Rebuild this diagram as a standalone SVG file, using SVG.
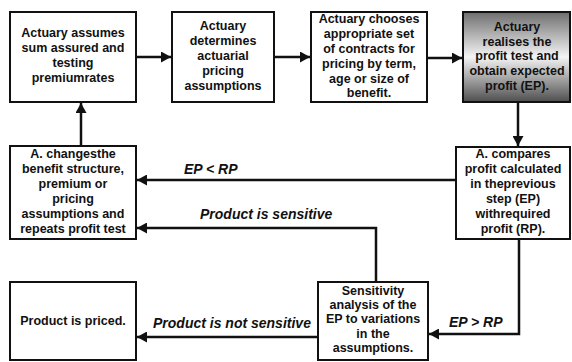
<svg xmlns="http://www.w3.org/2000/svg" width="572" height="362" viewBox="0 0 572 362">
<style>
.box{fill:#fff;stroke:#111;stroke-width:2}
.t{font-family:"Liberation Sans",Arial,sans-serif;font-weight:bold;font-size:12.5px;fill:#111;text-anchor:middle}
.lbl{font-family:"Liberation Sans",Arial,sans-serif;font-weight:bold;font-style:italic;font-size:14px;fill:#111}
.c{fill:none;stroke:#111;stroke-width:2.5}
</style>
<defs>
<linearGradient id="g" x1="0" y1="0" x2="0" y2="1">
<stop offset="0" stop-color="#6e6e6e"/>
<stop offset="0.5" stop-color="#f4f4f4"/>
<stop offset="1" stop-color="#4e4e4e"/>
</linearGradient>
<marker id="ah" markerUnits="userSpaceOnUse" markerWidth="11" markerHeight="11" refX="10" refY="5.5" orient="auto">
<path d="M0,0 L10,5.5 L0,11 z" fill="#111"/>
</marker>
</defs>
<rect width="572" height="362" fill="#fff"/>
<g id="connectors">
<line class="c" x1="136" y1="57" x2="171" y2="57" marker-end="url(#ah)"/>
<line class="c" x1="274" y1="57" x2="310" y2="57" marker-end="url(#ah)"/>
<line class="c" x1="427" y1="58" x2="462" y2="58" marker-end="url(#ah)"/>
<line class="c" x1="518" y1="103" x2="518" y2="146" marker-end="url(#ah)"/>
<line class="c" x1="456" y1="180" x2="137" y2="180" marker-end="url(#ah)"/>
<polyline class="c" points="376,282 376,228 137,228" marker-end="url(#ah)"/>
<polyline class="c" points="519,239 519,334 429,334" marker-end="url(#ah)"/>
<line class="c" x1="318" y1="337" x2="137" y2="337" marker-end="url(#ah)"/>
<line class="c" x1="81" y1="146" x2="81" y2="103" marker-end="url(#ah)"/>
<text class="lbl" x="184" y="174">EP &lt; RP</text>
<text class="lbl" x="200" y="219">Product is sensitive</text>
<text class="lbl" x="449" y="327">EP &gt; RP</text>
<text class="lbl" x="153" y="328">Product is not sensitive</text>
</g>
<g id="n1">
<rect class="box" x="10" y="12" width="126" height="90"/>
<text class="t" x="73" y="37">Actuary assumes</text>
<text class="t" x="73" y="52">sum assured and</text>
<text class="t" x="73" y="67">testing</text>
<text class="t" x="73" y="82">premiumrates</text>
</g>
<g id="n2">
<rect class="box" x="172" y="12" width="102" height="90"/>
<text class="t" x="223" y="30">Actuary</text>
<text class="t" x="223" y="45">determines</text>
<text class="t" x="223" y="60">actuarial</text>
<text class="t" x="223" y="75">pricing</text>
<text class="t" x="223" y="90">assumptions</text>
</g>
<g id="n3">
<rect class="box" x="311" y="12" width="116" height="90"/>
<text class="t" x="369" y="23">Actuary chooses</text>
<text class="t" x="369" y="38">appropriate set</text>
<text class="t" x="369" y="53">of contracts for</text>
<text class="t" x="369" y="68">pricing by term,</text>
<text class="t" x="369" y="83">age or size of</text>
<text class="t" x="369" y="97">benefit.</text>
</g>
<g id="n4">
<rect x="463" y="12" width="107" height="90" fill="url(#g)" stroke="#111" stroke-width="2"/>
<text class="t" x="517" y="31">Actuary</text>
<text class="t" x="517" y="46">realises the</text>
<text class="t" x="517" y="60">profit test and</text>
<text class="t" x="517" y="75">obtain expected</text>
<text class="t" x="517" y="90">profit (EP).</text>
</g>
<g id="n5">
<rect class="box" x="456" y="147" width="114" height="92"/>
<text class="t" x="513" y="158">A. compares</text>
<text class="t" x="513" y="173">profit calculated</text>
<text class="t" x="513" y="188">in theprevious</text>
<text class="t" x="513" y="203">step (EP)</text>
<text class="t" x="513" y="218">withrequired</text>
<text class="t" x="513" y="233">profit (RP).</text>
</g>
<g id="n6">
<rect class="box" x="10" y="146" width="126" height="93"/>
<text class="t" x="73" y="158">A. changesthe</text>
<text class="t" x="73" y="173">benefit structure,</text>
<text class="t" x="73" y="188">premium or</text>
<text class="t" x="73" y="203">pricing</text>
<text class="t" x="73" y="218">assumptions and</text>
<text class="t" x="73" y="233">repeats profit test</text>
</g>
<g id="n7">
<rect class="box" x="318" y="282" width="110" height="78"/>
<text class="t" x="373" y="295">Sensitivity</text>
<text class="t" x="373" y="309">analysis of the</text>
<text class="t" x="373" y="323">EP to variations</text>
<text class="t" x="373" y="338">in the</text>
<text class="t" x="373" y="352">assumptions.</text>
</g>
<g id="n8">
<rect class="box" x="10" y="282" width="126" height="78"/>
<text class="t" x="73" y="325">Product is priced.</text>
</g>
</svg>
